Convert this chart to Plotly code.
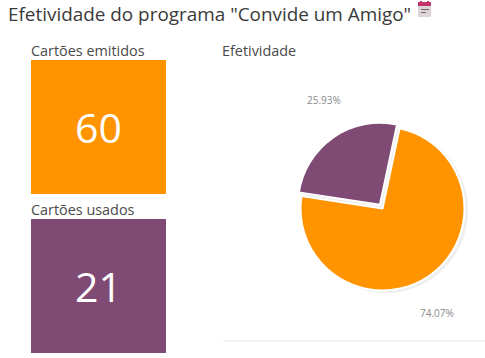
import plotly.graph_objects as go

W, H = 485, 358
title = 'Efetividade do programa "Convide um Amigo"'
card_titles = ["Cartões emitidos", "Cartões usados"]
card_values = [60, 21]
card_colors = ["#FF9300", "#7F4A73"]
pie_title = "Efetividade"
pie_labels = ["Cartões usados", "Cartões emitidos"]
pie_values = [21, 60]
pie_colors = ["#7F4A73", "#FF9300"]

def px(x): return x / W
def py(y): return 1 - y / H

fig = go.Figure()
# soft shadow disc
fig.add_trace(go.Pie(values=[1], marker=dict(colors=["#EEEEEE"], line=dict(width=0)),
    textinfo="none", hoverinfo="skip", showlegend=False, sort=False,
    domain=dict(x=[px(303), px(468)], y=[py(293), py(128)])))
# main pie
R = 82; cx, cy = 382.5, 208.5; pull = 0.055
rr = R * (1 + pull)
fig.add_trace(go.Pie(labels=pie_labels, values=pie_values, sort=False, direction="clockwise",
    rotation=-81.3, pull=[pull, 0],
    marker=dict(colors=pie_colors, line=dict(color="#FFFFFF", width=2)),
    textinfo="none", automargin=False, showlegend=False,
    domain=dict(x=[px(cx - rr), px(cx + rr)], y=[py(cy + rr), py(cy - rr)])))

def rect(x0, y0, x1, y1, c, layer="above"):
    return dict(type="rect", xref="paper", yref="paper", x0=px(x0), x1=px(x1),
                y0=py(y1), y1=py(y0), fillcolor=c, line_width=0, layer=layer)

shapes = []
for (y0, y1), c in zip([(60, 194), (219, 353)], card_colors):
    shapes.append(rect(31, y0, 166, y1, c, "below"))
shapes.append(rect(223, 340, 485, 342, "#F4F4F4", "below"))
# calendar icon
shapes += [rect(418, 5, 431, 17, "#DDD5D8"), rect(418, 2, 431, 6, "#C2336B"),
           rect(420, 1, 422, 3, "#C2336B"), rect(427, 1, 429, 3, "#C2336B"),
           rect(421, 9, 429, 10, "#6E6A6C"), rect(421, 12, 426, 13, "#6E6A6C")]

ann = [dict(text=title, x=px(6), y=py(14), font=dict(size=18.9, color="#3A3A3A"))]
for t, yy in zip(card_titles, [50, 209]):
    ann.append(dict(text=t, x=px(29), y=py(yy), font=dict(size=14.4, color="#4A4A4A")))
ann.append(dict(text=pie_title, x=px(220), y=py(50), font=dict(size=14.4, color="#4A4A4A")))
anns = [dict(a, xref="paper", yref="paper", xanchor="left", yanchor="middle", showarrow=False) for a in ann]
for v, yy in zip(card_values, [127, 286]):
    anns.append(dict(text=str(v), x=px(98.5), y=py(yy), xref="paper", yref="paper", xanchor="center",
                     yanchor="middle", showarrow=False, font=dict(size=41, color="#FFFFFF")))
total = sum(pie_values)
for v, (lx, ly) in zip(pie_values, [(324, 100), (437, 313)]):
    anns.append(dict(text=f"{v / total:.2%}", x=px(lx), y=py(ly), xref="paper", yref="paper", xanchor="center",
                     yanchor="middle", showarrow=False, font=dict(size=10, color="#8A8A8A")))

fig.update_layout(width=W, height=H, margin=dict(l=0, r=0, t=0, b=0), paper_bgcolor="#FFFFFF",
                  font=dict(family="Open Sans"), shapes=shapes, annotations=anns)
fig.write_html("out.html", config=dict(displayModeBar=False),
               post_script="document.body.style.margin='0';document.documentElement.style.overflow='hidden';")
